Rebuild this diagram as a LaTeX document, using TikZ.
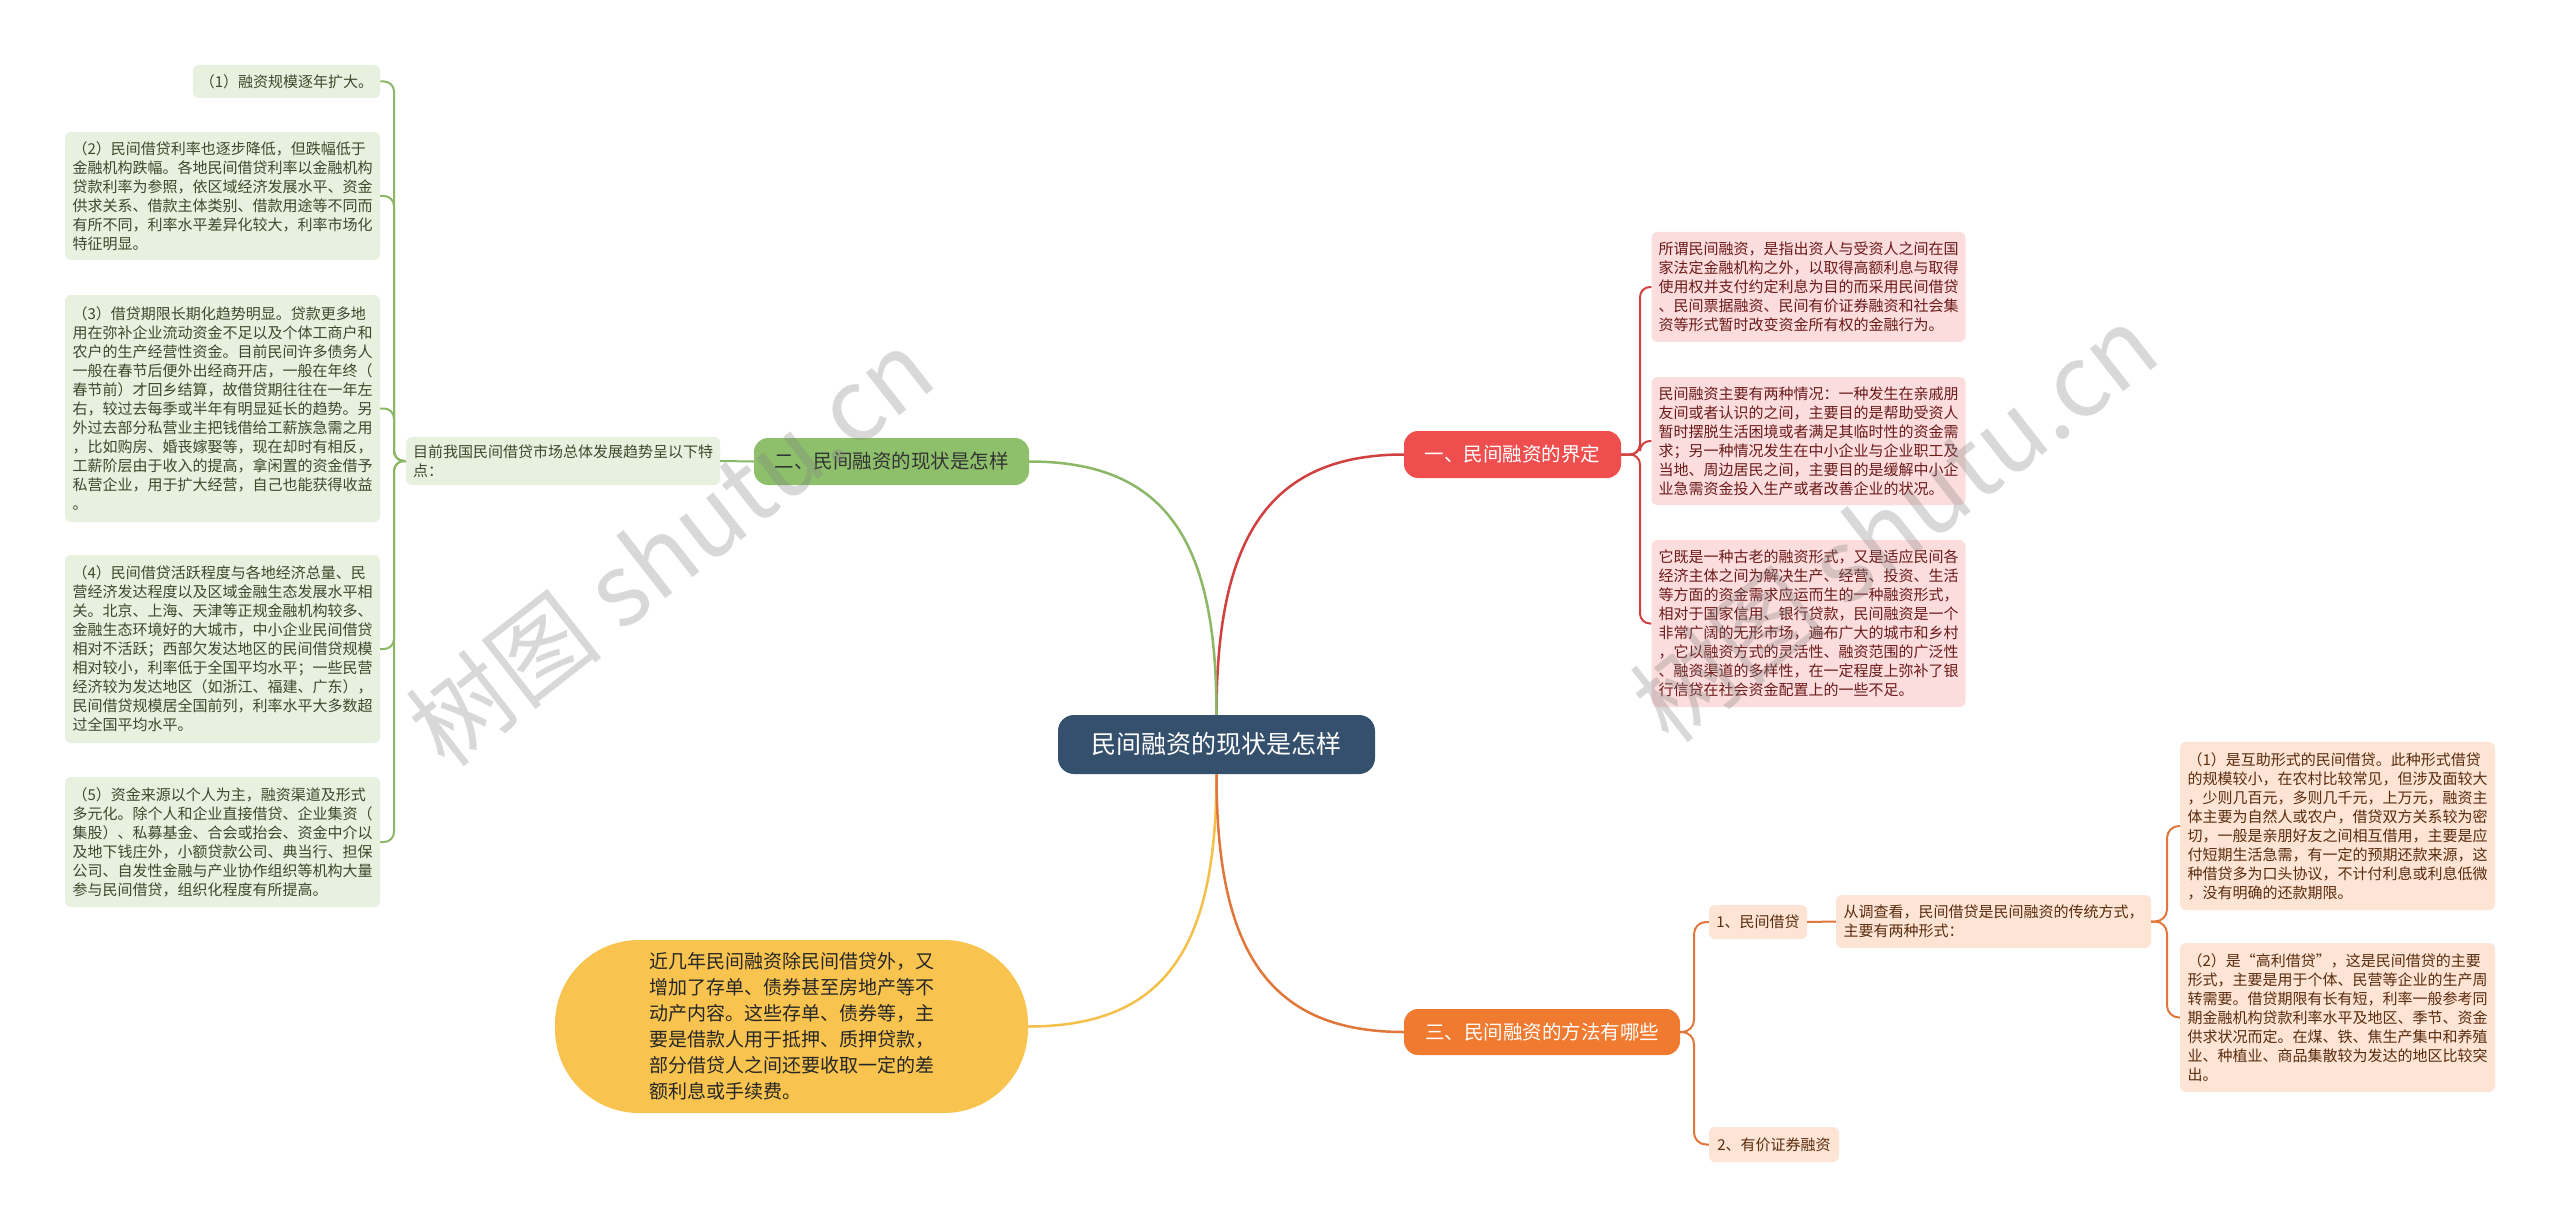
\documentclass[tikz,border=0pt]{standalone}
\usepackage{fontspec}
\setmainfont{Noto Sans CJK SC}
\usetikzlibrary{calc}
\definecolor{cblue}{HTML}{34506D}
\definecolor{bred}{HTML}{EF4E4E}
\definecolor{bgreen}{HTML}{8EC06C}
\definecolor{borange}{HTML}{F07A30}
\definecolor{byellow}{HTML}{F8C44F}
\definecolor{lgfill}{HTML}{E8F0DF}
\definecolor{lgtext}{HTML}{3B4A2C}
\definecolor{lrfill}{HTML}{FCDDDD}
\definecolor{lrtext}{HTML}{6B1A1A}
\definecolor{lofill}{HTML}{FDE4D4}
\definecolor{lotext}{HTML}{5A2C0E}
\definecolor{lnred}{HTML}{D0403E}
\definecolor{lngreen}{HTML}{8AB867}
\definecolor{lnorange}{HTML}{E0763A}
\definecolor{lnyellow}{HTML}{F5C04A}
\begin{document}
\begin{tikzpicture}[x=1pt,y=-1pt,
  leafbox/.style={draw=none, rounded corners=6pt, font=\fontsize{15}{19}\selectfont, align=left, inner xsep=7pt, inner ysep=6pt},
  leafg/.style={leafbox, fill=lgfill, text=lgtext},
  leafr/.style={leafbox, fill=lrfill, text=lrtext},
  leafo/.style={leafbox, fill=lofill, text=lotext},
  branchbox/.style={draw=none, rounded corners=14pt, font=\fontsize{19.5}{24}\selectfont, inner sep=4pt},
  gline/.style={draw=lngreen, line width=2pt, rounded corners=10pt},
  rline/.style={draw=lnred, line width=2pt, rounded corners=10pt},
  oline/.style={draw=lnorange, line width=2pt, rounded corners=12pt},
  mainline/.style={line width=2.5pt},
  wmark/.style={text=gray, opacity=0.3, font=\fontsize{100}{100}\selectfont, rotate=38}
]
\useasboundingbox (0,0) rectangle (2560,1225);
\fill[white] (0,0) rectangle (2560,1225);

% center
\node[draw=none, fill=cblue, text=white, rounded corners=16pt, font=\fontsize{25}{30}\selectfont, minimum width=317pt, minimum height=59pt] (c) at (1216.5,744.5) {民间融资的现状是怎样};

% branches
\node[branchbox, fill=bred, text=white, minimum width=217pt, minimum height=47pt] (b1) at (1512.5,454.5) {一、民间融资的界定};
\node[branchbox, fill=bgreen, text=black!80, minimum width=275pt, minimum height=47pt] (b2) at (891.5,461.5) {二、民间融资的现状是怎样};
\node[branchbox, fill=borange, text=white, minimum width=276pt, minimum height=46pt] (b3) at (1542,1032) {三、民间融资的方法有哪些};
\node[draw=none, fill=byellow, text=black!85, rounded corners=84pt, font=\fontsize{19}{26}\selectfont, align=left, minimum width=473pt, minimum height=173pt] (y) at (791.5,1026.5) {近几年民间融资除民间借贷外，又\\增加了存单、债券甚至房地产等不\\动产内容。这些存单、债券等，主\\要是借款人用于抵押、质押贷款，\\部分借贷人之间还要收取一定的差\\额利息或手续费。};

% green side
\node[leafg, minimum width=310pt, minimum height=48pt] (gm) at (563,461) {目前我国民间借贷市场总体发展趋势呈以下特\\点：};
\node[leafg, minimum width=187pt, minimum height=33pt] (l1) at (286.5,81.5) {（1）融资规模逐年扩大。};
\node[leafg, minimum width=315pt, minimum height=128pt] (l2) at (222.5,196) {（2）民间借贷利率也逐步降低，但跌幅低于\\金融机构跌幅。各地民间借贷利率以金融机构\\贷款利率为参照，依区域经济发展水平、资金\\供求关系、借款主体类别、借款用途等不同而\\有所不同，利率水平差异化较大，利率市场化\\特征明显。};
\node[leafg, minimum width=315pt, minimum height=227pt] (l3) at (222.5,408.5) {（3）借贷期限长期化趋势明显。贷款更多地\\用在弥补企业流动资金不足以及个体工商户和\\农户的生产经营性资金。目前民间许多债务人\\一般在春节后便外出经商开店，一般在年终（\\春节前）才回乡结算，故借贷期往往在一年左\\右，较过去每季或半年有明显延长的趋势。另\\外过去部分私营业主把钱借给工薪族急需之用\\，比如购房、婚丧嫁娶等，现在却时有相反，\\工薪阶层由于收入的提高，拿闲置的资金借予\\私营企业，用于扩大经营，自己也能获得收益\\。};
\node[leafg, minimum width=315pt, minimum height=188pt] (l4) at (222.5,649) {（4）民间借贷活跃程度与各地经济总量、民\\营经济发达程度以及区域金融生态发展水平相\\关。北京、上海、天津等正规金融机构较多、\\金融生态环境好的大城市，中小企业民间借贷\\相对不活跃；西部欠发达地区的民间借贷规模\\相对较小，利率低于全国平均水平；一些民营\\经济较为发达地区（如浙江、福建、广东），\\民间借贷规模居全国前列，利率水平大多数超\\过全国平均水平。};
\node[leafg, minimum width=315pt, minimum height=130pt] (l5) at (222.5,842) {（5）资金来源以个人为主，融资渠道及形式\\多元化。除个人和企业直接借贷、企业集资（\\集股）、私募基金、合会或抬会、资金中介以\\及地下钱庄外，小额贷款公司、典当行、担保\\公司、自发性金融与产业协作组织等机构大量\\参与民间借贷，组织化程度有所提高。};

% red side
\node[leafr, minimum width=313pt, minimum height=110pt] (r1) at (1808.5,287) {所谓民间融资，是指出资人与受资人之间在国\\家法定金融机构之外，以取得高额利息与取得\\使用权并支付约定利息为目的而采用民间借贷\\、民间票据融资、民间有价证券融资和社会集\\资等形式暂时改变资金所有权的金融行为。};
\node[leafr, minimum width=313pt, minimum height=128pt] (r2) at (1808.5,441) {民间融资主要有两种情况：一种发生在亲戚朋\\友间或者认识的之间，主要目的是帮助受资人\\暂时摆脱生活困境或者满足其临时性的资金需\\求；另一种情况发生在中小企业与企业职工及\\当地、周边居民之间，主要目的是缓解中小企\\业急需资金投入生产或者改善企业的状况。};
\node[leafr, minimum width=313pt, minimum height=167pt] (r3) at (1808.5,623.5) {它既是一种古老的融资形式，又是适应民间各\\经济主体之间为解决生产、经营、投资、生活\\等方面的资金需求应运而生的一种融资形式，\\相对于国家信用、银行贷款，民间融资是一个\\非常广阔的无形市场，遍布广大的城市和乡村\\，它以融资方式的灵活性、融资范围的广泛性\\、融资渠道的多样性，在一定程度上弥补了银\\行信贷在社会资金配置上的一些不足。};

% orange side
\node[leafo, minimum width=98pt, minimum height=34pt] (o1) at (1758,922) {1、民间借贷};
\node[leafo, minimum width=130pt, minimum height=35pt] (o2) at (1774,1144.5) {2、有价证券融资};
\node[leafo, minimum width=315pt, minimum height=53pt] (oq) at (1993.5,921.5) {从调查看，民间借贷是民间融资的传统方式，\\主要有两种形式：};
\node[leafo, minimum width=315pt, minimum height=168pt] (ol1) at (2337.5,826) {（1）是互助形式的民间借贷。此种形式借贷\\的规模较小，在农村比较常见，但涉及面较大\\，少则几百元，多则几千元，上万元，融资主\\体主要为自然人或农户，借贷双方关系较为密\\切，一般是亲朋好友之间相互借用，主要是应\\付短期生活急需，有一定的预期还款来源，这\\种借贷多为口头协议，不计付利息或利息低微\\，没有明确的还款期限。};
\node[leafo, minimum width=315pt, minimum height=149pt] (ol2) at (2337.5,1017.5) {（2）是“高利借贷”，这是民间借贷的主要\\形式，主要是用于个体、民营等企业的生产周\\转需要。借贷期限有长有短，利率一般参考同\\期金融机构贷款利率水平及地区、季节、资金\\供求状况而定。在煤、铁、焦生产集中和养殖\\业、种植业、商品集散较为发达的地区比较突\\出。};

% bracket coordinates
\coordinate (gb) at (394,0);
\coordinate (rb) at (1640,0);
\coordinate (obr) at (1694,0);
\coordinate (obr2) at (2167,0);

% main connectors
\draw[mainline, draw=lnred] (c.north) .. controls ($(c.north)+(0,-170)$) and ($(b1.west)+(-140,0)$) .. (b1.west);
\draw[mainline, draw=lngreen] (c.north) .. controls ($(c.north)+(0,-170)$) and ($(b2.east)+(140,0)$) .. (b2.east);
\draw[mainline, draw=lnyellow] (c.south) .. controls ($(c.south)+(0,170)$) and ($(y.east)+(140,0)$) .. (y.east);
\draw[mainline, draw=lnorange] (c.south) .. controls ($(c.south)+(0,170)$) and ($(b3.west)+(-140,0)$) .. (b3.west);

% green
\draw[gline] (b2.west) -- (gm.east);
\foreach \n in {l1,l2,l3,l4,l5} {
  \draw[gline] (gm.west) -| (gb |- \n.east) -- (\n.east);
}
% red
\foreach \n in {r1,r2,r3} {
  \draw[rline] (b1.east) -| (rb |- \n.west) -- (\n.west);
}
% orange
\foreach \n in {o1,o2} {
  \draw[oline] (b3.east) -| (obr |- \n.west) -- (\n.west);
}
\draw[oline] (o1.east) -- (oq.west);
\foreach \n in {ol1,ol2} {
  \draw[oline] (oq.east) -| (obr2 |- \n.west) -- (\n.west);
}

% watermarks
\node[wmark] (wm1) at (670,547) {树图 shutu.cn};
\node[wmark] (wm2) at (1894,523) {树图 shutu.cn};
\end{tikzpicture}
\end{document}
